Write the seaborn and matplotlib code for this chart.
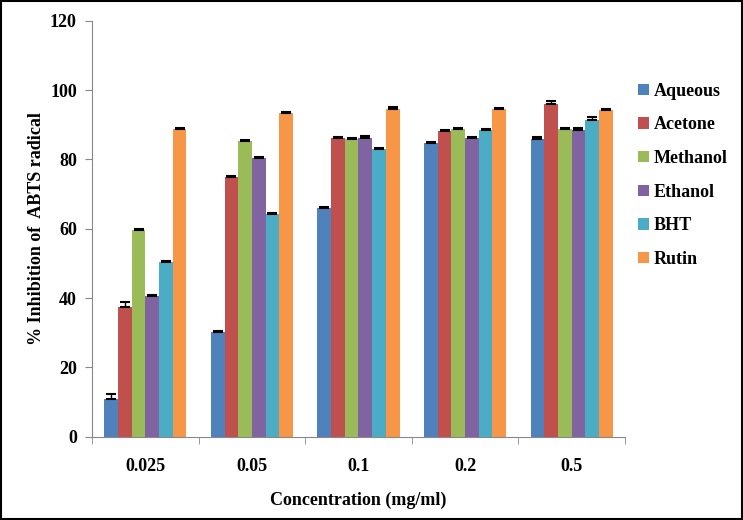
import matplotlib
matplotlib.use("Agg")
import matplotlib.pyplot as plt
import matplotlib.ticker as mtick
import seaborn as sns
import pandas as pd
import numpy as np

# Valores
concentracoes = ["0.025", "0.05", "0.1", "0.2", "0.5"]
extratos = ["Aqueous", "Acetone", "Methanol", "Ethanol", "BHT", "Rutin"]
aqueous = [11.0, 30.3, 66.0, 84.8, 85.8]
acetone = [37.5, 74.8, 86.3, 88.1, 96.0]
methanol = [59.7, 85.4, 85.8, 88.7, 88.8]
ethanol = [40.5, 80.3, 86.3, 86.3, 88.6]
bht = [50.3, 64.4, 83.1, 88.4, 91.3]
rutin = [88.7, 93.4, 94.6, 94.5, 94.3]
# desvios (barras de erro superiores)
err_aqueous = [1.3, 0.3, 0.3, 0.3, 0.8]
err_acetone = [1.3, 0.3, 0.3, 0.3, 0.8]
err_methanol = [0.3, 0.3, 0.3, 0.4, 0.3]
err_ethanol = [0.3, 0.4, 0.4, 0.3, 0.4]
err_bht = [0.3, 0.3, 0.3, 0.4, 0.9]
err_rutin = [0.4, 0.4, 0.4, 0.3, 0.4]

cores = ["#4F81BD", "#C0504D", "#9BBB59", "#8064A2", "#4BACC6", "#F79646"]

valores = [aqueous, acetone, methanol, ethanol, bht, rutin]
erros = [err_aqueous, err_acetone, err_methanol, err_ethanol, err_bht, err_rutin]

tabela = pd.DataFrame({
    "conc": concentracoes * len(extratos),
    "extrato": np.repeat(extratos, len(concentracoes)),
    "valor": np.concatenate(valores),
    "erro": np.concatenate(erros),
})

fig = plt.figure(figsize=(7.43, 5.20), dpi=100)
ax = fig.add_axes([0.124, 0.160, 0.717, 0.800])

sns.barplot(data=tabela, x="conc", y="valor", hue="extrato", order=concentracoes,
            hue_order=extratos, palette=cores, width=0.77, errorbar=None,
            saturation=1, ax=ax)

# barras de erro (só para cima) nos centros das barras
for cont, ext in zip(ax.containers, extratos):
    sub = tabela[tabela["extrato"] == ext].set_index("conc").loc[concentracoes]
    xs = [p.get_x() + p.get_width() / 2 for p in cont.patches]
    ax.errorbar(xs, sub["valor"], yerr=[np.zeros(len(xs)), sub["erro"]], fmt="none",
                ecolor="black", elinewidth=1.0, capsize=3.5, capthick=1.5)

fonte = "Liberation Serif"
tam = 13
ax.set_ylim(0, 120)
ax.set_xlim(-0.5, len(concentracoes) - 0.5)
ax.yaxis.set_major_locator(mtick.MultipleLocator(20))
ax.set_xticks(np.arange(-0.5, len(concentracoes), 1), minor=True)
ax.tick_params(axis="x", which="major", length=0, pad=15)
ax.tick_params(axis="x", which="minor", length=5, color="#888888", direction="out")
ax.tick_params(axis="y", length=5, color="#888888", direction="out", pad=6)
for lab in ax.get_xticklabels() + ax.get_yticklabels():
    lab.set_fontfamily(fonte)
    lab.set_fontweight("bold")
    lab.set_fontsize(tam)

for s in ["top", "right"]:
    ax.spines[s].set_visible(False)
for s in ["left", "bottom"]:
    ax.spines[s].set_color("#888888")

ax.set_xlabel("Concentration (mg/ml)", fontfamily=fonte, fontweight="bold", fontsize=tam, labelpad=12)
ax.set_ylabel("% Inhibition of  ABTS radical", fontfamily=fonte, fontweight="bold", fontsize=tam)
ax.yaxis.set_label_coords(-0.088, 0.5)

ax.legend(loc="upper left", bbox_to_anchor=(0.995, 0.89), frameon=False,
          prop={"family": fonte, "weight": "bold", "size": tam},
          handlelength=0.6, handleheight=0.6, handletextpad=0.25, labelspacing=0.92)

# moldura preta em volta da figura
fig.patches.append(plt.Rectangle((0.001, 0.001), 0.998, 0.998, transform=fig.transFigure,
                                 fill=False, edgecolor="black", linewidth=1.5))

fig.savefig("out.png", dpi=100)
